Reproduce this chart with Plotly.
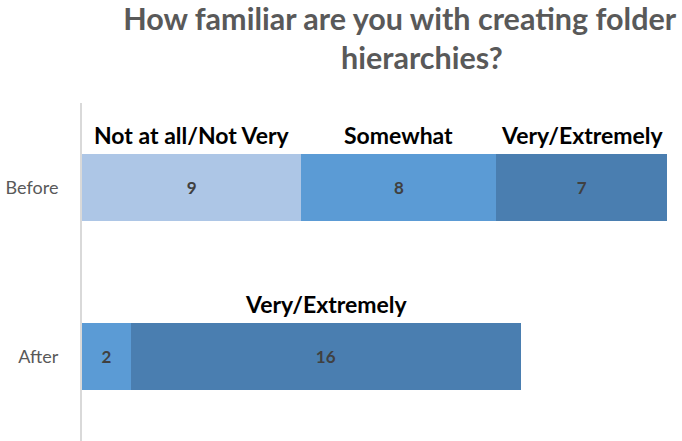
import plotly.graph_objects as go

# Survey responses, stacked by familiarity level
groups = ["Before", "After"]
levels = ["Not at all/Not Very", "Somewhat", "Very/Extremely"]
not_very = [9, 0]
somewhat = [8, 2]
very = [7, 16]
colors = ["#adc6e6", "#5b9bd5", "#4a7eb0"]

# Segment captions shown above the bars: (group, level index)
captions = [("Before", 0), ("Before", 1), ("Before", 2), ("After", 2)]

series = [not_very, somewhat, very]

fig = go.Figure()
for name, vals, col in zip(levels, series, colors):
    fig.add_trace(go.Bar(
        y=groups, x=vals, name=name, orientation="h",
        marker=dict(color=col, line=dict(width=0)),
        text=[str(v) if v else "" for v in vals],
        textposition="inside", insidetextanchor="middle",
        textfont=dict(family="Lato", size=17, color="#404040", weight="bold"),
        showlegend=False, width=0.4,
    ))

for grp, li in captions:
    gi = groups.index(grp)
    start = sum(series[k][gi] for k in range(li))
    mid = start + series[li][gi] / 2
    fig.add_annotation(
        x=mid, y=grp, text=levels[li], showarrow=False,
        yshift=53, font=dict(family="Lato", size=23, color="#000000", weight="bold"),
    )

fig.update_layout(
    barmode="stack",
    width=682, height=441,
    margin=dict(l=82, r=15, t=103, b=0),
    plot_bgcolor="white", paper_bgcolor="white",
    title=dict(
        text="How familiar are you with creating folder<br>" + "&nbsp;" * 6 + "hierarchies?",
        x=0.586, xanchor="center", yref="container", y=0.933, yanchor="middle",
        font=dict(family="Lato", size=30.5, color="#595959", weight="bold"),
    ),
    xaxis=dict(range=[0, 24], showgrid=False, zeroline=False,
               showticklabels=False, showline=False),
    yaxis=dict(categoryorder="array", categoryarray=groups[::-1],
               range=[-0.5, 1.5], showgrid=False, zeroline=False,
               showline=True, linecolor="#d9d9d9", linewidth=2,
               ticks="", ticklabelstandoff=18,
               tickfont=dict(family="Lato", size=18, color="#595959")),
)

fig.write_html("out.html")
